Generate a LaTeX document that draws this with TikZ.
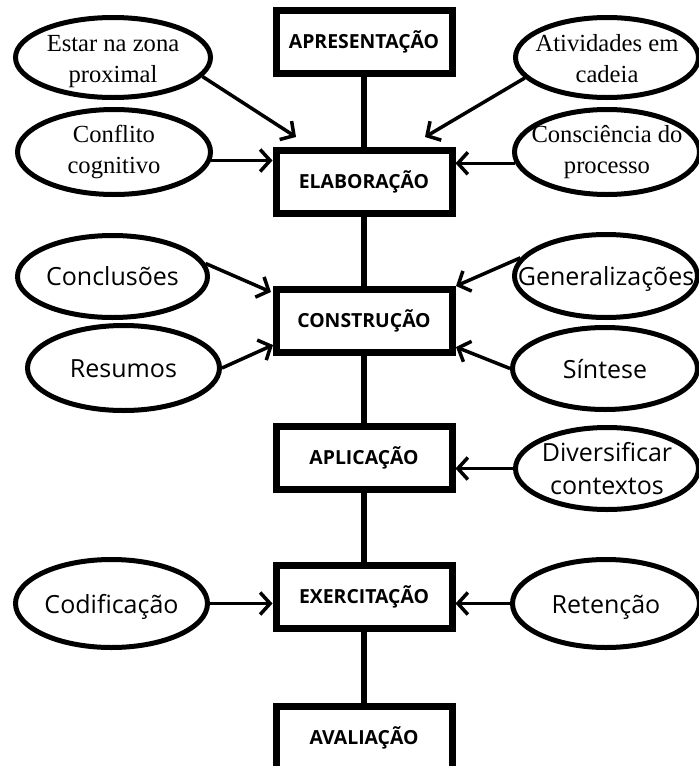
\documentclass[tikz,border=0pt]{standalone}
\usepackage{fontspec}
\setmainfont{Liberation Serif}
\setsansfont{Open Sans}
\usetikzlibrary{shapes.geometric,arrows.meta}
% zero-size centred text block; optional argument = twice the downward shift
\newcommand{\zbox}[2][6pt]{\vbox to 0pt{\vss\kern#1\hbox to 0pt{\hss\begin{tabular}{@{}c@{}}#2\end{tabular}\hss}\vss}}
\begin{document}
\begin{tikzpicture}[x=1pt,y=-1pt,
 stage/.style={draw, line width=7pt, rectangle, minimum width=176pt, minimum height=63pt, inner sep=0pt, font=\sffamily\bfseries\fontsize{19.4}{22}\selectfont},
 bubble/.style={draw, line width=5pt, ellipse, inner sep=0pt},
 serif/.style={font=\rmfamily\fontsize{24.6}{31}\selectfont},
 sans/.style={font=\sffamily\fontsize{25}{33}\selectfont},
 link/.style={line width=6.5pt},
 feed/.style={line width=3.5pt, -{Straight Barb[length=10pt,width=22pt]}}]
\useasboundingbox (0,0) rectangle (699,766);
\clip (0,0) rectangle (699,766);
% stages
\node[stage] (A)  at (364,42)  {APRESENTAÇÃO};
\node[stage] (E)  at (364,182) {ELABORAÇÃO};
\node[stage] (C)  at (364,321) {CONSTRUÇÃO};
\node[stage] (Ap) at (364,458) {APLICAÇÃO};
\node[stage] (Ex) at (364,597) {EXERCITAÇÃO};
\node[stage] (Av) at (364,738) {AVALIAÇÃO};
\draw[link] (A) -- (E);
\draw[link] (E) -- (C);
\draw[link] (C) -- (Ap);
\draw[link] (Ap) -- (Ex);
\draw[link] (Ex) -- (Av);
% bubbles
\node[bubble, serif, minimum width=195pt, minimum height=80pt] (e1) at (113,57.5) {\zbox{Estar na zona\\proximal}};
\node[bubble, serif, minimum width=193pt, minimum height=85pt] (e2) at (114,152) {\zbox[0pt]{Conflito\\cognitivo}};
\node[bubble, serif, minimum width=183pt, minimum height=80pt] (e3) at (607,57.5) {\zbox{Atividades em\\cadeia}};
\node[bubble, serif, minimum width=185pt, minimum height=85pt] (e4) at (607,152) {\zbox[0pt]{Consciência do\\processo}};
\node[bubble, sans, minimum width=190pt, minimum height=82pt] (e5) at (112.5,276.5) {\zbox[4pt]{Conclusões}};
\node[bubble, sans, minimum width=192pt, minimum height=85pt] (e6) at (123.5,368) {\zbox{Resumos}};
\node[bubble, sans, minimum width=183pt, minimum height=83pt] (e7) at (606,276) {\zbox[5pt]{Generalizações}};
\node[bubble, sans, minimum width=185pt, minimum height=82pt] (e8) at (605,368.5) {\zbox{Síntese}};
\node[bubble, sans, minimum width=183pt, minimum height=82pt] (e9) at (607,468.5) {\zbox{Diversificar\\contextos}};
\node[bubble, sans, minimum width=192pt, minimum height=88pt] (e10) at (111.5,603.5) {\zbox{Codificação}};
\node[bubble, sans, minimum width=187pt, minimum height=88pt] (e11) at (606,603.5) {\zbox{Retenção}};
% arrow tips that end near a box
\coordinate (t1) at (296,137);
\coordinate (t3) at (425,137);
\coordinate (t5) at (271,292);
\coordinate (t6) at (273,345);
\coordinate (t7) at (456,286);
\coordinate (t8) at (456,347);
% arrows
\draw[feed] (e1.-12) -- (t1);
\draw[feed] (e2.-5) -- (e2.-5 -| E.west);
\draw[feed] (e3.194) -- (t3);
\draw[feed] (e4.187) -- (e4.187 -| E.east);
\draw[feed] (e5.8) -- (t5);
\draw[feed] (e6.east) -- (t6);
\draw[feed] (e7.168) -- (t7);
\draw[feed] (e8.west) -- (t8);
\draw[feed] (e9.west) -- (e9.west -| Ap.east);
\draw[feed] (e10.east) -- (e10.east -| Ex.west);
\draw[feed] (e11.west) -- (e11.west -| Ex.east);
\end{tikzpicture}
\end{document}
